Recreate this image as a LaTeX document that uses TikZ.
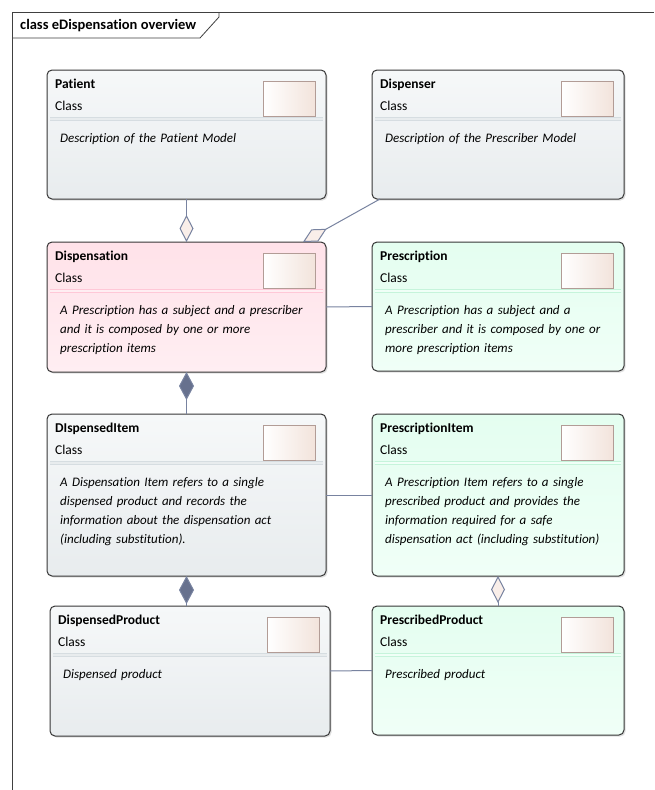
\documentclass[tikz,border=0pt]{standalone}
\usepackage{fontspec}
\setmainfont{Carlito}[Ligatures={NoCommon,NoRequired,NoContextual}]
\usetikzlibrary{arrows.meta,shadows}

\definecolor{boxborder}{HTML}{363636}
\definecolor{graytop}{HTML}{F6F8F9}
\definecolor{graybot}{HTML}{E8ECEE}
\definecolor{graysep}{HTML}{D6DDE1}
\definecolor{pinktop}{HTML}{FFE2E9}
\definecolor{pinkbot}{HTML}{FFEEF2}
\definecolor{pinksep}{HTML}{FFC8D7}
\definecolor{minttop}{HTML}{E4FEF0}
\definecolor{mintbot}{HTML}{F0FFF7}
\definecolor{mintsep}{HTML}{C6F4DB}
\definecolor{iconedge}{HTML}{B29C96}
\definecolor{iconright}{HTML}{F2E3DB}
\definecolor{linkcol}{HTML}{7883A0}
\definecolor{linkdark}{HTML}{67718E}
\definecolor{hollowfill}{HTML}{F9EEE9}

% class box: name, top-left, width, height, colour set, title, description
\newcommand{\umlclass}[7]{%
  \node[classbox, top color=#5top, bottom color=#5bot, minimum width=#3, minimum height=#4] (#1) at #2 {};
  \draw[clssep, draw=#5sep, double=#5bot] ([shift={(3pt,-49pt)}]#1.north west) -- ([shift={(-3pt,-49pt)}]#1.north east);
  \node[clsname] (#1-name) at ([shift={(8pt,-18pt)}]#1.north west) {#6};
  \node[clstype] (#1-type) at ([shift={(8pt,-40pt)}]#1.north west) {Class};
  \node[clsicon] (#1-icon) at ([shift={(-10pt,-11pt)}]#1.north east) {};
  \node[clsdesc] (#1-desc) at ([shift={(13pt,-72pt)}]#1.north west) {#7};
}

\tikzset{
  hollowdia/.tip={Diamond[length=27pt,width=14pt,fill=hollowfill]},
  fulldia/.tip={Diamond[length=28pt,width=15pt,fill=linkdark]}
}

\begin{document}
\begin{tikzpicture}[x=1pt,y=-1pt,
  classbox/.style={draw=boxborder,line width=1pt,rounded corners=5pt,anchor=north west,inner sep=0pt,outer sep=0pt,
    drop shadow={shadow xshift=1.5pt,shadow yshift=-1.5pt,opacity=0.25}},
  clssep/.style={line width=0.7pt,double distance=2pt},
  clsname/.style={anchor=base west,inner sep=0pt,font=\fontsize{13.5}{16}\selectfont\bfseries},
  clstype/.style={anchor=base west,inner sep=0pt,font=\fontsize{13.5}{16}\selectfont},
  clsicon/.style={anchor=north east,draw=iconedge,line width=0.8pt,left color=white,right color=iconright,
    minimum width=52pt,minimum height=35pt,inner sep=0pt},
  clsdesc/.style={anchor=base west,inner sep=0pt,text width=250pt,align=left,
    font=\fontsize{13}{19}\selectfont\itshape},
  assoc/.style={draw=linkcol,line width=1pt},
  frameline/.style={draw=black!75,line width=0.8pt}]
  \useasboundingbox (0,0) rectangle (654,790);
  \fill[white] (0,0) rectangle (654,790);

  \draw[frameline] (12,790) -- (12,12) -- (654,12);
  \draw[frameline] (12,38) -- (200,38) -- (219,17) -- (219,12);
  \node[anchor=base west,inner sep=0pt,font=\fontsize{14.5}{16}\selectfont\bfseries] (title) at (20,29) {class eDispensation overview};

  \umlclass{patient}{(47,70)}{279pt}{129pt}{gray}{Patient}{Description of the Patient Model}
  \umlclass{dispenser}{(372,70)}{252pt}{129pt}{gray}{Dispenser}{Description of the Prescriber Model}
  \umlclass{dispensation}{(47,242)}{279pt}{130pt}{pink}{Dispensation}{A Prescription has a subject and a prescriber\\and it is composed by one or more\\prescription items}
  \umlclass{prescription}{(372,242)}{252pt}{129pt}{mint}{Prescription}{A Prescription has a subject and a\\prescriber and it is composed by one or\\more prescription items}
  \umlclass{dispitem}{(47,414)}{279pt}{162pt}{gray}{DIspensedItem}{A Dispensation Item refers to a single\\dispensed product and records the\\information about the dispensation act\\(including substitution).}
  \umlclass{prescitem}{(372,414)}{252pt}{162pt}{mint}{PrescriptionItem}{A Prescription Item refers to a single\\prescribed product and provides the\\information required for a safe\\dispensation act (including substitution)}
  \umlclass{dispprod}{(50,606)}{280pt}{130pt}{gray}{DispensedProduct}{Dispensed product}
  \umlclass{prescprod}{(372,606)}{252pt}{129pt}{mint}{PrescribedProduct}{Prescribed product}

  \draw[assoc,-hollowdia] (patient.south) -- (dispensation.north);
  \draw[assoc,-hollowdia] ([xshift=8pt]dispenser.south west) -- ([xshift=-23pt]dispensation.north east);
  \draw[assoc] (dispensation.east) -- (prescription.west);
  \draw[assoc,fulldia-] (dispensation.south) -- (dispitem.north);
  \draw[assoc] (dispitem.east) -- (prescitem.west);
  \draw[assoc,fulldia-] (dispitem.south) -- (dispitem.south |- dispprod.north);
  \draw[assoc,hollowdia-] (prescitem.south) -- (prescprod.north);
  \draw[assoc] (dispprod.east) -- (prescprod.west);
\end{tikzpicture}
\end{document}
